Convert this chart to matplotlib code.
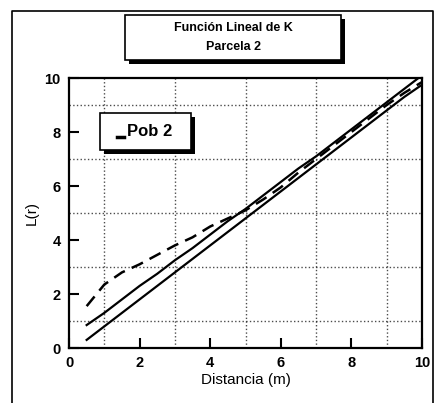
import matplotlib.pyplot as plt
from matplotlib.patches import Rectangle
from matplotlib.lines import Line2D

plt.rcParams['font.family'] = ['Liberation Sans', 'DejaVu Sans']

# distancia (m)
dist = [0.5, 1, 1.5, 2, 2.5, 3, 3.5, 4, 4.5, 5, 5.5, 6, 6.5, 7, 7.5, 8, 8.5, 9, 9.5, 10]
# Pob 2 (linea discontinua)
pob2 = [1.55, 2.35, 2.8, 3.1, 3.45, 3.8, 4.1, 4.5, 4.8, 5.1, 5.5, 5.95, 6.5, 7.0,
        7.5, 8.0, 8.5, 9.0, 9.45, 9.85]
# envolventes
env_sup = [0.85, 1.3, 1.8, 2.3, 2.75, 3.25, 3.7, 4.2, 4.7, 5.15, 5.65, 6.15, 6.65, 7.1,
           7.6, 8.1, 8.6, 9.1, 9.6, 10.1]
env_inf = [0.3, 0.8, 1.3, 1.8, 2.3, 2.8, 3.3, 3.8, 4.3, 4.8, 5.3, 5.8, 6.3, 6.8,
           7.3, 7.8, 8.3, 8.8, 9.3, 9.75]

ticks = [0, 2, 4, 6, 8, 10]
grid_pos = [1, 3, 5, 7, 9]

fig = plt.figure(figsize=(4.36, 4.03), dpi=100)
ax = fig.add_axes([69/436, 1 - 348/403, (422 - 69)/436, (348 - 78)/403])

ax.plot(dist, env_sup, color='black', lw=1.6)
ax.plot(dist, env_inf, color='black', lw=1.6)
ax.plot(dist, pob2, color='black', lw=1.8, ls=(0, (5, 3)))

ax.set_xlim(0, 10)
ax.set_ylim(0, 10)
ax.set_xticks(ticks)
ax.set_yticks(ticks)
ax.set_xticks(grid_pos, minor=True)
ax.set_yticks(grid_pos, minor=True)
ax.grid(which='minor', color='black', ls=':', lw=1.0, alpha=0.7)
ax.tick_params(which='major', direction='in', length=7, width=1.5, labelsize=10.5, pad=6)
ax.tick_params(which='minor', length=0)
for lab in ax.get_xticklabels() + ax.get_yticklabels():
    lab.set_fontweight('bold')
for s in ax.spines.values():
    s.set_linewidth(1.6)

ax.set_xlabel('Distancia (m)', fontsize=11, labelpad=2)
ax.set_ylabel('L(r)', fontsize=11, labelpad=4)

# cuadro del titulo con sombra
W, H = 436, 403
def caja(x0, y0, x1, y1, off=4):
    fig.patches.append(Rectangle((x0/W + off/W, 1 - (y1 + off)/H), (x1 - x0)/W, (y1 - y0)/H,
                                 transform=fig.transFigure, facecolor='black', edgecolor='none'))
    fig.patches.append(Rectangle((x0/W, 1 - y1/H), (x1 - x0)/W, (y1 - y0)/H,
                                 transform=fig.transFigure, facecolor='white', edgecolor='black', lw=1.2))

caja(125, 15, 341, 60)
fig.text(233/W, 1 - 28/H, 'Función Lineal de K', ha='center', va='center', fontsize=9, fontweight='bold')
fig.text(233/W, 1 - 47/H, 'Parcela 2', ha='center', va='center', fontsize=9, fontweight='bold')

# leyenda
caja(100, 113, 191, 150)
fig.lines.append(Line2D([117/W, 124/W], [1 - 137/H, 1 - 137/H], transform=fig.transFigure,
                        color='black', lw=2.5))
fig.text(127/W, 1 - 132/H, 'Pob 2', ha='left', va='center', fontsize=12, fontweight='bold')

# marco exterior
fig.lines.append(Line2D([12/W, 12/W, 433/W, 433/W], [0, 1 - 11/H, 1 - 11/H, 0],
                        transform=fig.transFigure, color='black', lw=1.2))

fig.savefig('out.png', dpi=100)
